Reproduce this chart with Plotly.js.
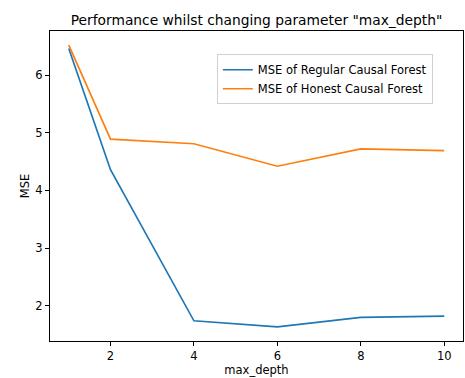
<!DOCTYPE html>
<html>
<head>
<meta charset="utf-8">
<script src="https://cdn.plot.ly/plotly-3.0.1.min.js"></script>
<style>html,body{margin:0;padding:0;background:#fff;}#chart{width:465px;height:378px;}</style>
</head>
<body>
<div id="chart"></div>
<script>
const maxDepth = [1, 2, 4, 6, 8, 10];
const mseRegular = [6.46, 4.36, 1.74, 1.635, 1.80, 1.82];
const mseHonest = [6.52, 4.89, 4.81, 4.42, 4.72, 4.69];
const seriesNames = ["MSE of Regular Causal Forest", "MSE of Honest Causal Forest"];
const xTicks = [2, 4, 6, 8, 10];
const yTicks = [2, 3, 4, 5, 6];

const font = "DejaVu Sans, sans-serif";
const traces = [
  {x: maxDepth, y: mseRegular, name: seriesNames[0], mode: "lines", line: {color: "#1f77b4", width: 1.7}},
  {x: maxDepth, y: mseHonest, name: seriesNames[1], mode: "lines", line: {color: "#ff7f0e", width: 1.7}}
];
const axisCommon = {
  showline: true, mirror: true, linecolor: "#000", linewidth: 1,
  ticks: "outside", ticklen: 4, tickwidth: 1, tickcolor: "#000",
  showgrid: false, zeroline: false,
  tickfont: {family: font, size: 11.5, color: "#000"}
};
const layout = {
  width: 465, height: 378,
  margin: {l: 50, r: 2, t: 31, b: 37},
  paper_bgcolor: "#fff", plot_bgcolor: "#fff",
  font: {family: font, color: "#000"},
  title: {text: 'Performance whilst changing parameter "max_depth"', font: {family: font, size: 13.8, color: "#000"},
          xref: "paper", x: 0.5, xanchor: "center", yref: "container", y: 1 - 20/378, yanchor: "middle"},
  xaxis: Object.assign({}, axisCommon, {range: [0.55, 10.45], tickvals: xTicks,
          title: {text: "max_depth", font: {family: font, size: 11.5, color: "#000"}, standoff: 2}}),
  yaxis: Object.assign({}, axisCommon, {range: [1.39, 6.764], tickvals: yTicks,
          title: {text: "MSE", font: {family: font, size: 11.5, color: "#000"}, standoff: 3}}),
  showlegend: true,
  legend: {x: 0.404, y: 0.925, xanchor: "left", yanchor: "top", bgcolor: "#fff",
           bordercolor: "#d0d0d0", borderwidth: 1, font: {family: font, size: 11.5, color: "#000"}}
};
Plotly.newPlot("chart", traces, layout, {displayModeBar: false, staticPlot: true});
</script>
</body>
</html>
